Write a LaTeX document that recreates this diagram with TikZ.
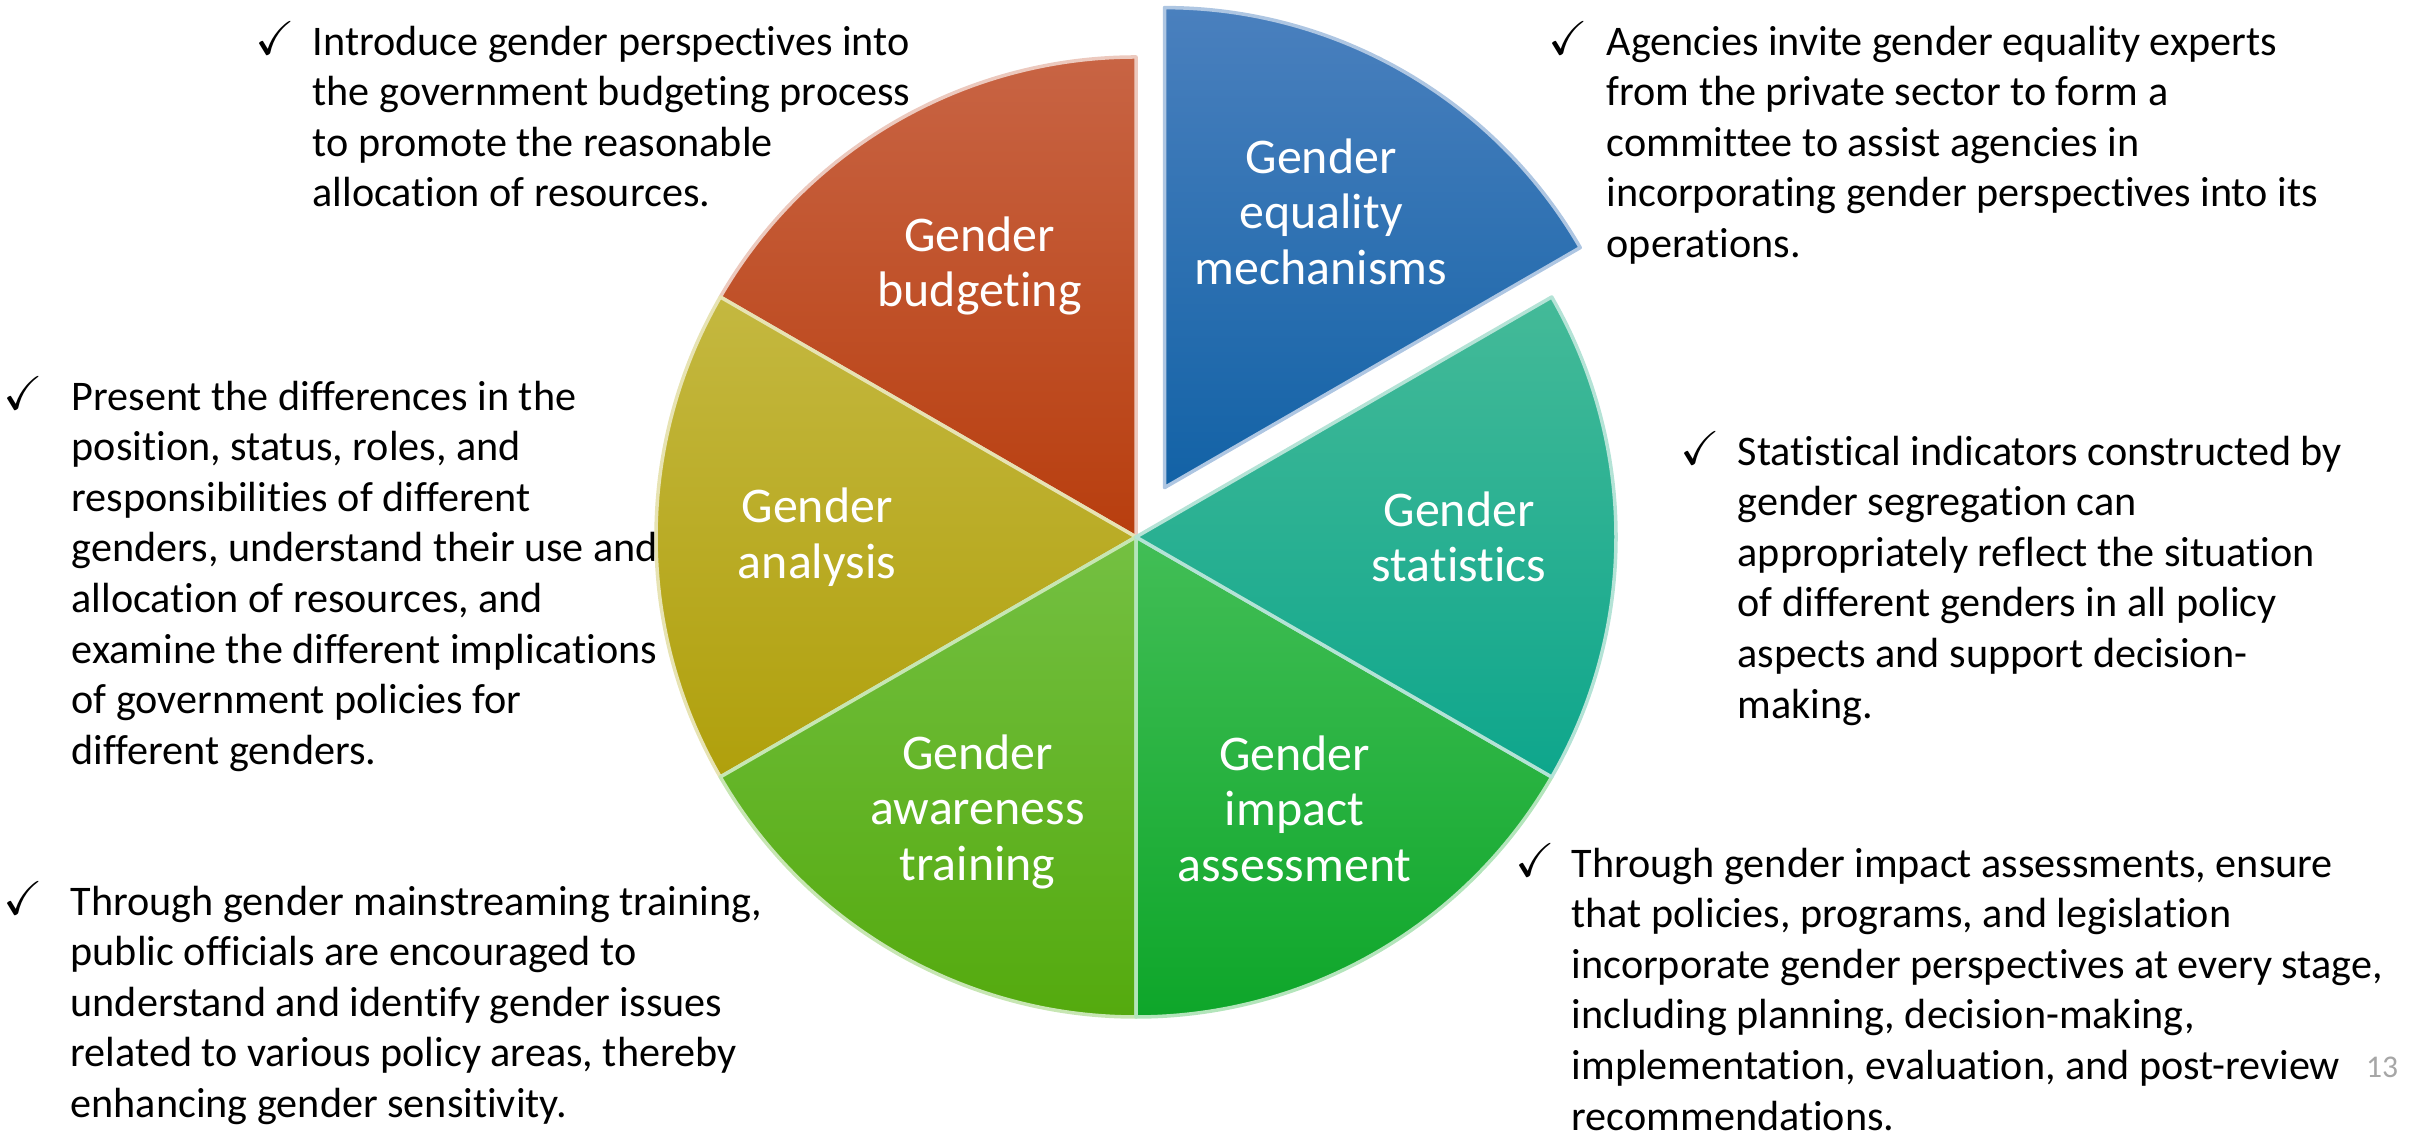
\documentclass[tikz,border=0pt]{standalone}
\usepackage{amssymb}
\usepackage{fontspec}
\setmainfont[Ligatures={NoCommon}]{Carlito}
\usepackage{tikz}
\usetikzlibrary{positioning}

\definecolor{mechtop}{RGB}{74,128,190}
\definecolor{mechbot}{RGB}{18,98,166}
\definecolor{budtop}{RGB}{200,100,68}
\definecolor{budbot}{RGB}{184,62,14}
\definecolor{anatop}{RGB}{196,184,64}
\definecolor{anabot}{RGB}{176,160,12}
\definecolor{awatop}{RGB}{116,192,66}
\definecolor{awabot}{RGB}{84,170,14}
\definecolor{imptop}{RGB}{66,190,86}
\definecolor{impbot}{RGB}{14,166,42}
\definecolor{stattop}{RGB}{68,186,152}
\definecolor{statbot}{RGB}{14,166,140}
\definecolor{pagegray}{RGB}{166,166,166}

\begin{document}
\begin{tikzpicture}
		\tikzstyle{SliceStyle}=[line width=1pt,line join=round]
		\tikzstyle{SliceLabel}=[text=white,align=center,font=\fontsize{14.2}{15.8}\selectfont]
		\tikzstyle{NoteText}=[align=left,anchor=north west,inner sep=0pt,font=\fontsize{12}{14.4}\selectfont]
		\tikzstyle{CheckMark}=[anchor=base west,inner sep=0pt,font=\fontsize{13.5}{14}\selectfont]
		\useasboundingbox (0,0) rectangle (24.28,11.38);
		\coordinate (O) at (11.36,6.01);
		\coordinate (Oex) at ([shift={(60:0.57)}]O);
		% pie
		\shadedraw[SliceStyle,top color=mechtop,bottom color=mechbot,draw=mechtop!45!white] (Oex) -- ++(30:4.8) arc (30:90:4.8) -- cycle;
		\shadedraw[SliceStyle,top color=budtop,bottom color=budbot,draw=budtop!35!white] (O) -- ++(90:4.8) arc (90:150:4.8) -- cycle;
		\shadedraw[SliceStyle,top color=anatop,bottom color=anabot,draw=anatop!40!white] (O) -- ++(150:4.8) arc (150:210:4.8) -- cycle;
		\shadedraw[SliceStyle,top color=awatop,bottom color=awabot,draw=awatop!40!white] (O) -- ++(210:4.8) arc (210:270:4.8) -- cycle;
		\shadedraw[SliceStyle,top color=imptop,bottom color=impbot,draw=imptop!40!white] (O) -- ++(270:4.8) arc (270:330:4.8) -- cycle;
		\shadedraw[SliceStyle,top color=stattop,bottom color=statbot,draw=stattop!40!white] (O) -- ++(-30:4.8) arc (-30:30:4.8) -- cycle;
		\node[SliceLabel] (mech) at ([shift={(60:3.13)},yshift=0.05cm]Oex) {Gender\\equality\\mechanisms};
		\node[SliceLabel] (budget) at ([shift={(120:3.13)}]O) {Gender\\budgeting};
		\node[SliceLabel] (analysis) at ([shift={(180:3.19)}]O) {Gender\\analysis};
		\node[SliceLabel] (awareness) at ([shift={(240:3.17)}]O) {Gender\\awareness\\training};
		\node[SliceLabel] (impact) at ([shift={(300:3.17)},yshift=0.03cm]O) {Gender\\impact\\assessment};
		\node[SliceLabel] (stats) at ([shift={(0:3.23)}]O) {Gender\\statistics};
		% notes
		\node[CheckMark] (budgetcheck) at (2.55,10.83) {$\checkmark$};
		\node[NoteText] (budgetnote) at (3.12,11.19) {\strut Introduce gender perspectives into\\the government budgeting process\\to promote the reasonable\\allocation of resources.};
		\node[CheckMark] (mechcheck) at (15.48,10.83) {$\checkmark$};
		\node[NoteText] (mechnote) at (16.06,11.19) {\strut Agencies invite gender equality experts\\from the private sector to form a\\committee to assist agencies in\\incorporating gender perspectives into its\\operations.};
		\node[CheckMark] (statscheck) at (16.80,6.73) {$\checkmark$};
		\node[NoteText] (statsnote) at (17.37,7.09) {\strut Statistical indicators constructed by\\gender segregation can\\appropriately reflect the situation\\of different genders in all policy\\aspects and support decision-\\making.};
		\node[CheckMark] (analysischeck) at (0.03,7.28) {$\checkmark$};
		\node[NoteText] (analysisnote) at (0.71,7.64) {\strut Present the differences in the\\position, status, roles, and\\responsibilities of different\\genders, understand their use and\\allocation of resources, and\\examine the different implications\\of government policies for\\different genders.};
		\node[CheckMark] (awarenesscheck) at (0.03,2.23) {$\checkmark$};
		\node[NoteText] (awarenessnote) at (0.70,2.59) {\strut Through gender mainstreaming training,\\public officials are encouraged to\\understand and identify gender issues\\related to various policy areas, thereby\\enhancing gender sensitivity.};
		\node[CheckMark] (impactcheck) at (15.15,2.61) {$\checkmark$};
		\node[NoteText] (impactnote) at (15.71,2.97) {\strut Through gender impact assessments, ensure\\that policies, programs, and legislation\\incorporate gender perspectives at every stage,\\including planning, decision-making,\\implementation, evaluation, and post-review\\recommendations.};
		\node[text=pagegray,font=\fontsize{9}{10}\selectfont] (pagenum) at (23.82,0.71) {13};
	\end{tikzpicture}
\end{document}
